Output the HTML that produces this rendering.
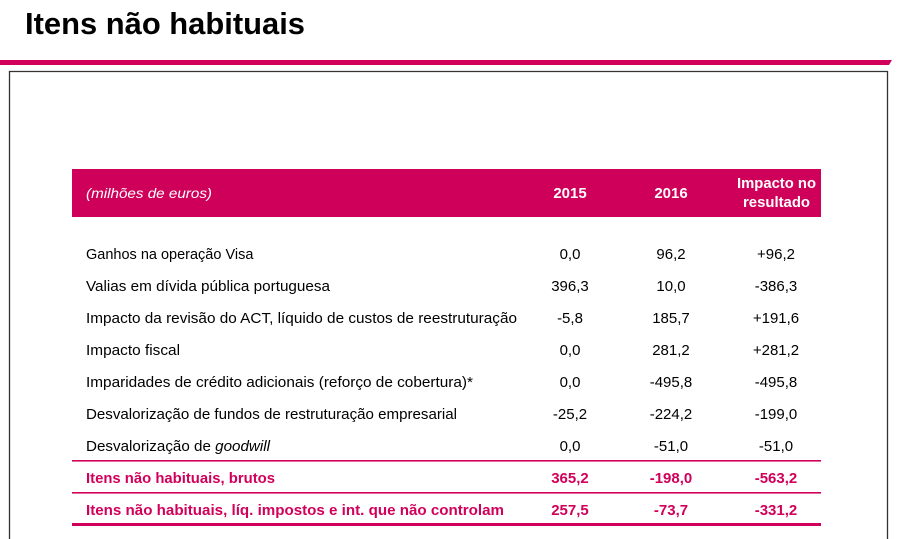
<!DOCTYPE html>
<html>
<head>
<meta charset="utf-8">
<style>
html,body{margin:0;padding:0;background:#fff;width:897px;height:539px;overflow:hidden;}
svg{display:block;}
text{font-family:"Liberation Sans",Arial,sans-serif;}
</style>
</head>
<body>
<svg width="897" height="539" viewBox="0 0 897 539" xmlns="http://www.w3.org/2000/svg">
  <rect x="0" y="0" width="897" height="539" fill="#fff"/>
  <!-- Title -->
  <text x="25" y="34" font-size="31" font-weight="bold" fill="#000" textLength="280" lengthAdjust="spacingAndGlyphs">Itens não habituais</text>
  <!-- top pink rule -->
  <polygon points="0,60 892,60 889,65 0,65" fill="#d1005a"/>
  <!-- frame -->
  <path d="M9.5,539 L9.5,71.5 L887.5,71.5 L887.5,539" fill="none" stroke="#333" stroke-width="1.3"/>
  <!-- header bar -->
  <rect x="72" y="169" width="749" height="48" fill="#cf0059"/>
  <text x="86" y="198" font-size="14" font-style="italic" fill="#fff" textLength="126" lengthAdjust="spacingAndGlyphs">(milhões de euros)</text>
  <text x="570" y="198" font-size="15" font-weight="bold" fill="#fff" text-anchor="middle">2015</text>
  <text x="671" y="198" font-size="15" font-weight="bold" fill="#fff" text-anchor="middle">2016</text>
  <text x="737" y="188" font-size="14.5" font-weight="bold" fill="#fff" textLength="79" lengthAdjust="spacingAndGlyphs">Impacto no</text>
  <text x="743" y="207" font-size="14.5" font-weight="bold" fill="#fff" textLength="67" lengthAdjust="spacingAndGlyphs">resultado</text>

  <!-- rows -->
  <g font-size="14.5" fill="#000">
    <text x="86" y="259" font-size="14.5">Ganhos na operação Visa</text>
    <text x="86" y="291" textLength="244" lengthAdjust="spacingAndGlyphs">Valias em dívida pública portuguesa</text>
    <text x="86" y="323" textLength="431" lengthAdjust="spacingAndGlyphs">Impacto da revisão do ACT, líquido de custos de reestruturação</text>
    <text x="86" y="355" textLength="94" lengthAdjust="spacingAndGlyphs">Impacto fiscal</text>
    <text x="86" y="387" textLength="387" lengthAdjust="spacingAndGlyphs">Imparidades de crédito adicionais (reforço de cobertura)*</text>
    <text x="86" y="419" textLength="371" lengthAdjust="spacingAndGlyphs">Desvalorização de fundos de restruturação empresarial</text>
    <text x="86" y="451" textLength="184" lengthAdjust="spacingAndGlyphs">Desvalorização de <tspan font-style="italic">goodwill</tspan></text>
  </g>
  <g font-size="15" fill="#000" text-anchor="middle">
    <text x="570" y="259">0,0</text><text x="671" y="259">96,2</text><text x="776" y="259">+96,2</text>
    <text x="570" y="291">396,3</text><text x="671" y="291">10,0</text><text x="776" y="291">-386,3</text>
    <text x="570" y="323">-5,8</text><text x="671" y="323">185,7</text><text x="776" y="323">+191,6</text>
    <text x="570" y="355">0,0</text><text x="671" y="355">281,2</text><text x="776" y="355">+281,2</text>
    <text x="570" y="387">0,0</text><text x="671" y="387">-495,8</text><text x="776" y="387">-495,8</text>
    <text x="570" y="419">-25,2</text><text x="671" y="419">-224,2</text><text x="776" y="419">-199,0</text>
    <text x="570" y="451">0,0</text><text x="671" y="451">-51,0</text><text x="776" y="451">-51,0</text>
  </g>

  <!-- separators -->
  <rect x="72" y="460" width="749" height="1.6" fill="#d1005a"/>
  <rect x="72" y="492" width="749" height="1.6" fill="#d1005a"/>
  <rect x="72" y="523" width="749" height="3" fill="#d1005a"/>

  <!-- totals -->
  <g font-size="14.5" font-weight="bold" fill="#d1005a">
    <text x="86" y="483" textLength="189" lengthAdjust="spacingAndGlyphs">Itens não habituais, brutos</text>
    <text x="86" y="515" textLength="418" lengthAdjust="spacingAndGlyphs">Itens não habituais, líq. impostos e int. que não controlam</text>
  </g>
  <g font-size="15" font-weight="bold" fill="#d1005a" text-anchor="middle">
    <text x="570" y="483">365,2</text><text x="671" y="483">-198,0</text><text x="776" y="483">-563,2</text>
    <text x="570" y="515">257,5</text><text x="671" y="515">-73,7</text><text x="776" y="515">-331,2</text>
  </g>
</svg>
</body>
</html>
